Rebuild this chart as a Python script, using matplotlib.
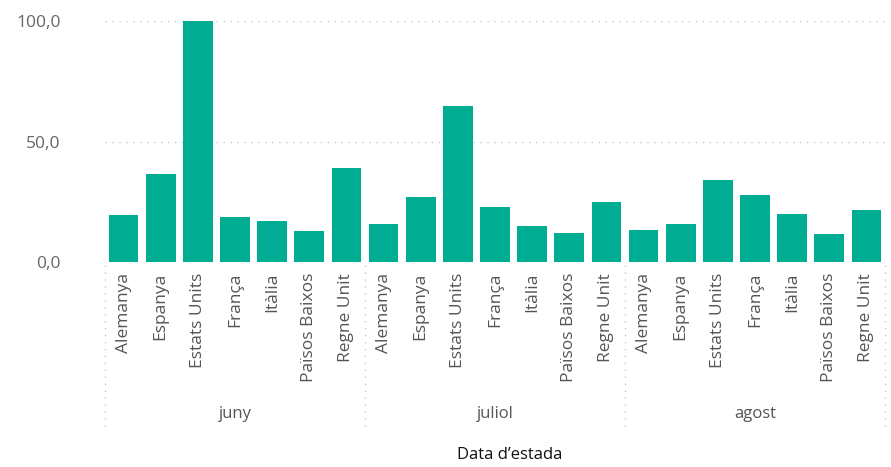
import matplotlib.pyplot as plt
import matplotlib.transforms as transforms

months = ["juny", "juliol", "agost"]
countries = ["Alemanya", "Espanya", "Estats Units", "França", "Itàlia", "Països Baixos", "Regne Unit"]
juny = [19.5, 36.5, 100.0, 18.7, 17.0, 12.9, 39.0]
juliol = [15.8, 27.0, 64.8, 23.0, 15.0, 11.9, 25.0]
agost = [13.3, 15.8, 34.0, 27.8, 19.9, 11.6, 21.6]

plt.rcParams["font.family"] = ["Open Sans", "DejaVu Sans"]

values = juny + juliol + agost
labels = countries * 3
xs = list(range(len(values)))

fig = plt.figure(figsize=(8.91, 4.67), dpi=100)
ax = fig.add_axes([105 / 891, 1 - 262 / 467, 780 / 891, 241 / 467])

ax.bar(xs, values, width=0.8, color="#01ad92", zorder=2)

ax.set_xlim(-0.5, len(values) - 0.5)
ax.set_ylim(0, 100)
ax.set_yticks([0, 50, 100])
ax.set_yticklabels(["0,0", "50,0", "100,0"], fontsize=12.5, color="#666666")
ax.set_xticks(xs)
ax.set_xticklabels(labels, rotation=90, fontsize=12.5, color="#555555")
ax.tick_params(axis="both", length=0)
ax.tick_params(axis="y", pad=32)
ax.tick_params(axis="x", pad=8)
for lbl in ax.get_yticklabels():
    lbl.set_horizontalalignment("right")

for s in ax.spines.values():
    s.set_visible(False)

for yv in [0, 50, 100]:
    ax.axhline(yv, color="#c8c8c8", linestyle=(0, (1, 4)), linewidth=1, zorder=1)

# group separators and month labels under the country names
trans = transforms.blended_transform_factory(ax.transData, fig.transFigure)
n = len(countries)
for g in range(len(months) + 1):
    xpos = g * n - 0.5
    ax.plot([xpos, xpos], [1 - 265 / 467, 1 - 427 / 467], transform=trans,
            color="#c8c8c8", linestyle=(0, (1, 4)), linewidth=1, clip_on=False)
for g, m in enumerate(months):
    ax.text(g * n + (n - 1) / 2, 1 - 414 / 467, m, transform=trans,
            ha="center", va="center", fontsize=12, color="#555555")

fig.text(510 / 891, 1 - 455 / 467, "Data d’estada", ha="center", va="center",
         fontsize=12, color="#111111")

fig.savefig("out.png", dpi=100)
